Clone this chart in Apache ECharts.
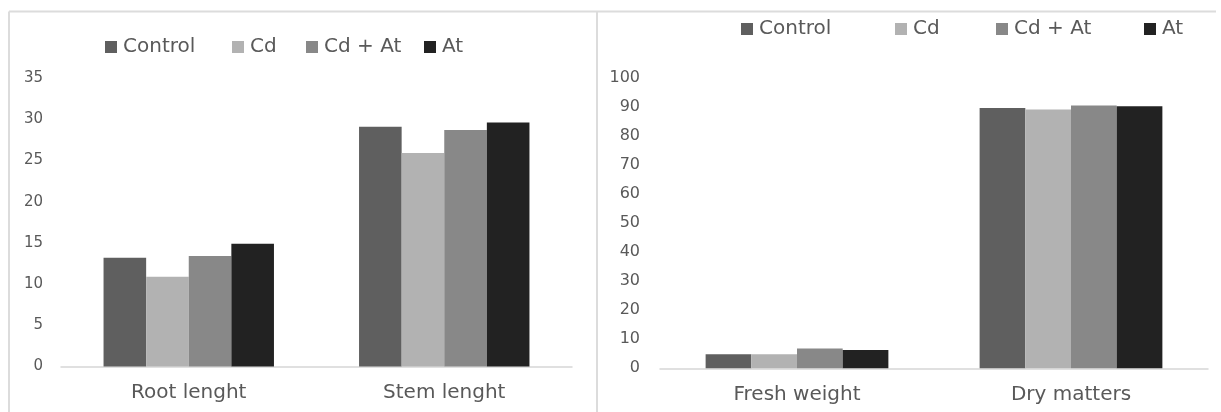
<!DOCTYPE html>
<html>
<head>
<meta charset="utf-8">
<script src="https://cdn.jsdelivr.net/npm/echarts@6/dist/echarts.min.js"></script>
<style>
html,body{margin:0;padding:0;background:#fff;}
#chart{width:1221px;height:412px;}
</style>
</head>
<body>
<div id="chart"></div>
<script>
// ---- data ----
const seriesNames = ['Control', 'Cd', 'Cd + At', 'At'];
const categoriesLength = ['Root lenght', 'Stem lenght'];
const categoriesWeight = ['Fresh weight', 'Dry matters'];

const controlLength = [13.2, 29.1];
const cdLength = [10.9, 25.9];
const cdAtLength = [13.4, 28.7];
const atLength = [14.9, 29.6];

const controlWeight = [4.8, 89.5];
const cdWeight = [4.8, 89.0];
const cdAtWeight = [6.8, 90.4];
const atWeight = [6.3, 90.1];

const lengthTicks = { min: 0, max: 35, interval: 5 };
const weightTicks = { min: 0, max: 100, interval: 10 };

// ---- styling ----
const colors = ['#5f5f5f', '#b2b2b2', '#888888', '#222222'];
const FONT = 'DejaVu Sans';
const TXT = '#595959';

const lengthValues = [controlLength, cdLength, cdAtLength, atLength];
const weightValues = [controlWeight, cdWeight, cdAtWeight, atWeight];

const chart = echarts.init(document.getElementById('chart'), null, { renderer: 'canvas' });

function mkSeries(vals, gi) {
  return seriesNames.map((n, i) => ({
    name: n,
    type: 'bar',
    xAxisIndex: gi,
    yAxisIndex: gi,
    data: vals[i],
    barGap: '0%',
    barCategoryGap: '33.3%',
    itemStyle: { color: colors[i] },
    emphasis: { disabled: true },
    animation: false
  }));
}

const legendLeftX = [105, 232, 306, 424];
const legendRightX = [741, 895, 996, 1144];
function mkLegends(xs, top) {
  return seriesNames.map((n, i) => ({
    data: [n],
    left: xs[i],
    top: top,
    padding: 0,
    itemWidth: 12,
    itemHeight: 12,
    itemGap: 0,
    icon: 'rect',
    selectedMode: false,
    textStyle: { fontFamily: FONT, fontSize: 20, color: TXT, padding: [0, 0, 0, 1] }
  }));
}

const catAxis = (gi, data) => ({
  type: 'category',
  gridIndex: gi,
  data: data,
  axisLine: { show: true, lineStyle: { color: '#d6d6d6', width: 1.5 } },
  axisTick: { show: false },
  axisLabel: { fontFamily: FONT, fontSize: 20, color: TXT, margin: 16 }
});
const valAxis = (gi, t, fs, margin) => ({
  type: 'value',
  gridIndex: gi,
  min: t.min, max: t.max, interval: t.interval,
  axisLine: { show: false },
  axisTick: { show: false },
  splitLine: { show: false },
  axisLabel: { fontFamily: FONT, fontSize: fs, color: TXT, margin: margin }
});

const option = {
  backgroundColor: '#ffffff',
  animation: false,
  color: colors,
  grid: [
    { left: 61, right: 649, top: 78, bottom: 45.5 },
    { left: 660, right: 13, top: 77.5, bottom: 43.7 }
  ],
  legend: mkLegends(legendLeftX, 37).concat(mkLegends(legendRightX, 19)),
  xAxis: [catAxis(0, categoriesLength), catAxis(1, categoriesWeight)],
  yAxis: [valAxis(0, lengthTicks, 15, 18), valAxis(1, weightTicks, 16, 20)],
  series: mkSeries(lengthValues, 0).concat(mkSeries(weightValues, 1)),
  graphic: [
    { type: 'line', silent: true, shape: { x1: 9, y1: 11.5, x2: 1216, y2: 11.5 }, style: { stroke: '#dcdcdc', lineWidth: 2 } },
    { type: 'line', silent: true, shape: { x1: 9, y1: 11.5, x2: 9, y2: 412 }, style: { stroke: '#dcdcdc', lineWidth: 2 } },
    { type: 'line', silent: true, shape: { x1: 597, y1: 11.5, x2: 597, y2: 412 }, style: { stroke: '#dcdcdc', lineWidth: 2 } }
  ]
};
chart.setOption(option);
</script>
</body>
</html>
